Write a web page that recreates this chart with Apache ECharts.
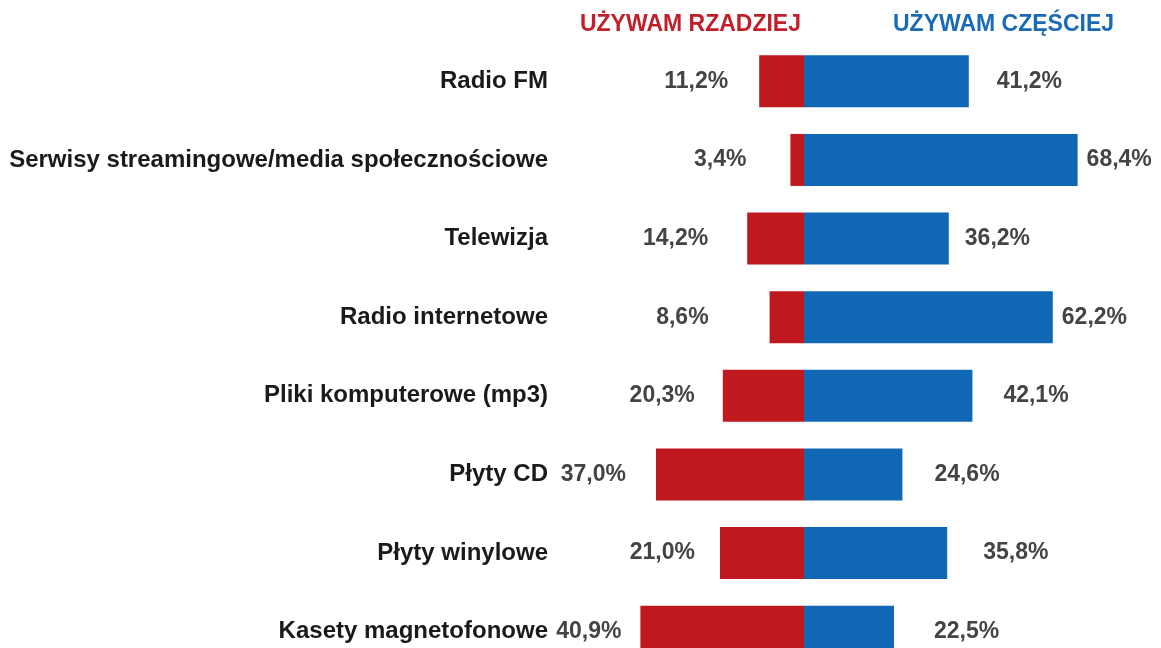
<!DOCTYPE html>
<html>
<head>
<meta charset="utf-8">
<script src="https://cdn.jsdelivr.net/npm/echarts@6/dist/echarts.min.js"></script>
<style>
  html, body { margin: 0; padding: 0; background: #fff; }
  #main { width: 1161px; height: 648px; }
</style>
</head>
<body>
<div id="main"></div>
<script>
// kategorie (od góry)
var categories = ['Radio FM', 'Serwisy streamingowe/media społecznościowe', 'Telewizja', 'Radio internetowe',
  'Pliki komputerowe (mp3)', 'Płyty CD', 'Płyty winylowe', 'Kasety magnetofonowe'];
// używam rzadziej (%)
var rzadziej = [11.2, 3.4, 14.2, 8.6, 20.3, 37.0, 21.0, 40.9];
// używam częściej (%)
var czesciej = [41.2, 68.4, 36.2, 62.2, 42.1, 24.6, 35.8, 22.5];

// odstępy etykiet od słupków (styl)
var gapLeft = [31, 44, 39, 61, 28, 30, 25, 19];
var gapRight = [28, 9, 16, 9, 31, 32, 36, 40];

var FONT = 'Arial, "Liberation Sans", Helvetica, sans-serif';
var RED = '#c0181f';
var BLUE = '#1068b5';

function fmt(v) {
  return Math.abs(v).toFixed(1).replace('.', ',') + '%';
}

var chart = echarts.init(document.getElementById('main'));

var option = {
  backgroundColor: '#fff',
  animation: false,
  title: [
    {
      text: 'UŻYWAM RZADZIEJ',
      right: 355, top: 8,
      textStyle: { color: '#c1202a', fontFamily: FONT, fontWeight: 'bold', fontSize: 23 }
    },
    {
      text: 'UŻYWAM CZĘŚCIEJ',
      left: 888, top: 8,
      textStyle: { color: '#1a6ab5', fontFamily: FONT, fontWeight: 'bold', fontSize: 23 }
    }
  ],
  grid: { left: 604, right: 37, top: 42, bottom: -23, outerBoundsMode: 'none' },
  xAxis: {
    type: 'value', min: -50, max: 80,
    show: false
  },
  yAxis: {
    type: 'category',
    data: categories,
    inverse: true,
    axisLine: { show: false },
    axisTick: { show: false },
    axisLabel: {
      margin: 56,
      color: '#1a1a1a',
      fontFamily: FONT, fontWeight: 'bold', fontSize: 24
    }
  },
  series: [
    {
      name: 'Używam rzadziej',
      type: 'bar',
      barWidth: 52,
      barGap: '-100%',
      itemStyle: { color: RED },
      data: rzadziej.map(function (v, i) {
        return { value: -v, label: { distance: gapLeft[i] } };
      }),
      label: {
        show: true, position: 'left',
        color: '#444', fontFamily: FONT, fontWeight: 'bold', fontSize: 23,
        formatter: function (p) { return fmt(p.value); }
      }
    },
    {
      name: 'Używam częściej',
      type: 'bar',
      barWidth: 52,
      barGap: '-100%',
      itemStyle: { color: BLUE },
      data: czesciej.map(function (v, i) {
        return { value: v, label: { distance: gapRight[i] } };
      }),
      label: {
        show: true, position: 'right',
        color: '#444', fontFamily: FONT, fontWeight: 'bold', fontSize: 23,
        formatter: function (p) { return fmt(p.value); }
      }
    }
  ]
};

chart.setOption(option);
</script>
</body>
</html>
